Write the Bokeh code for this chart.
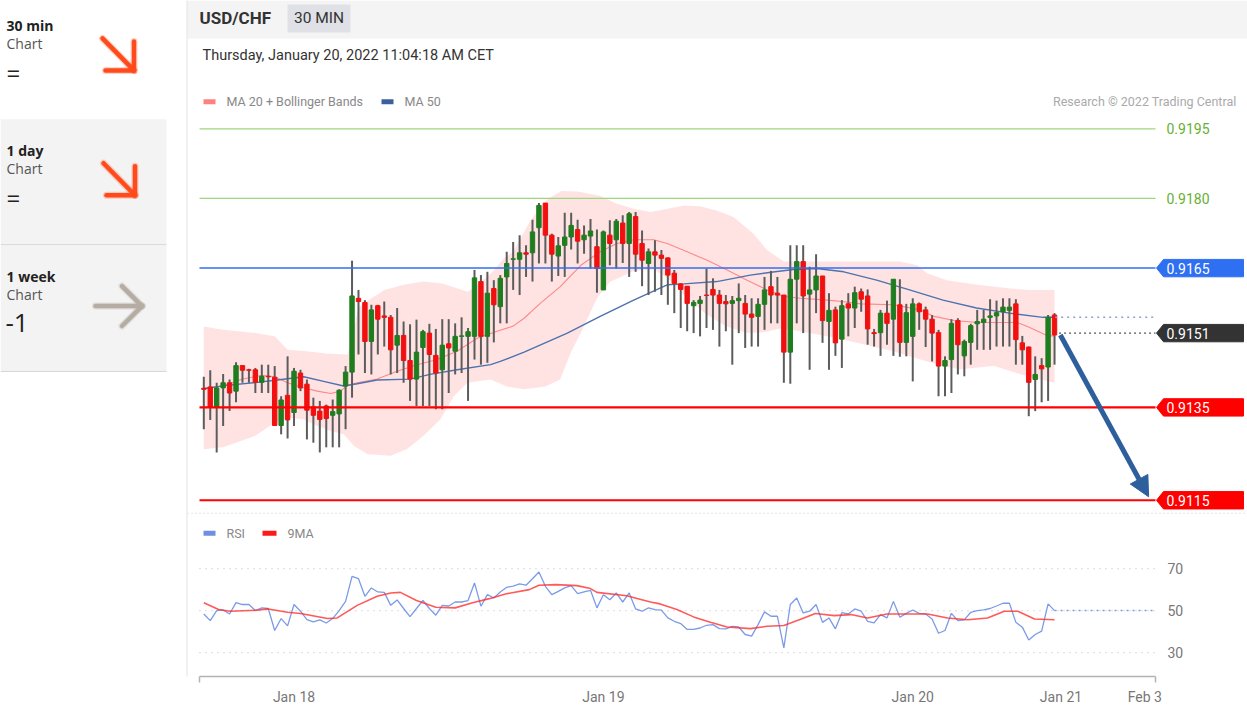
from bokeh.plotting import figure
from bokeh.models import Range1d, LinearAxis, FixedTicker, Arrow, NormalHead
from bokeh.core.properties import value
from bokeh.embed import file_html
from bokeh.resources import INLINE

# ---------------- data ----------------
opens = [0.91391, 0.91394, 0.91351, 0.91392, 0.91403, 0.91385, 0.91440, 0.91431, 0.91431, 0.91404,
         0.91417, 0.91415, 0.91311, 0.91376, 0.91339, 0.91424, 0.91400, 0.91351, 0.91342, 0.91353,
         0.91333, 0.91336, 0.91396, 0.91426, 0.91585, 0.91576, 0.91492, 0.91569, 0.91547, 0.91544,
         0.91484, 0.91505, 0.91451, 0.91411, 0.91479, 0.91510, 0.91462, 0.91431, 0.91487, 0.91471,
         0.91503, 0.91503, 0.91503, 0.91621, 0.91503, 0.91606, 0.91567, 0.91631, 0.91669, 0.91669,
         0.91683, 0.91683, 0.91737, 0.91790, 0.91721, 0.91676, 0.91699, 0.91717, 0.91733, 0.91711,
         0.91719, 0.91696, 0.91603, 0.91721, 0.91711, 0.91747, 0.91703, 0.91761, 0.91703, 0.91660,
         0.91685, 0.91678, 0.91672, 0.91639, 0.91616, 0.91611, 0.91569, 0.91574, 0.91592, 0.91604,
         0.91592, 0.91578, 0.91574, 0.91580, 0.91574, 0.91551, 0.91546, 0.91572, 0.91610, 0.91596,
         0.91592, 0.91469, 0.91626, 0.91664, 0.91594, 0.91603, 0.91633, 0.91535, 0.91560, 0.91497,
         0.91573, 0.91564, 0.91599, 0.91590, 0.91511, 0.91511, 0.91553, 0.91540, 0.91571, 0.91490,
         0.91503, 0.91573, 0.91560, 0.91540, 0.91511, 0.91439, 0.91453, 0.91537, 0.91461, 0.91490,
         0.91530, 0.91533, 0.91544, 0.91547, 0.91556, 0.91559, 0.91573, 0.91489, 0.91480, 0.91410,
         0.91440, 0.91437, 0.91549]
highs = [0.91416, 0.91430, 0.91403, 0.91422, 0.91410, 0.91447, 0.91441, 0.91433, 0.91435, 0.91442,
         0.91442, 0.91439, 0.91374, 0.91460, 0.91435, 0.91431, 0.91410, 0.91371, 0.91364, 0.91356,
         0.91367, 0.91389, 0.91439, 0.91666, 0.91603, 0.91581, 0.91571, 0.91571, 0.91578, 0.91549,
         0.91564, 0.91535, 0.91529, 0.91539, 0.91517, 0.91530, 0.91519, 0.91540, 0.91540, 0.91531,
         0.91544, 0.91521, 0.91646, 0.91635, 0.91642, 0.91624, 0.91635, 0.91685, 0.91706, 0.91721,
         0.91699, 0.91754, 0.91790, 0.91790, 0.91724, 0.91717, 0.91769, 0.91769, 0.91754, 0.91742,
         0.91756, 0.91733, 0.91731, 0.91753, 0.91756, 0.91764, 0.91771, 0.91771, 0.91731, 0.91692,
         0.91710, 0.91689, 0.91673, 0.91646, 0.91617, 0.91611, 0.91581, 0.91590, 0.91649, 0.91628,
         0.91603, 0.91592, 0.91590, 0.91617, 0.91592, 0.91585, 0.91585, 0.91631, 0.91644, 0.91631,
         0.91592, 0.91699, 0.91699, 0.91699, 0.91653, 0.91680, 0.91633, 0.91596, 0.91567, 0.91581,
         0.91596, 0.91610, 0.91606, 0.91604, 0.91519, 0.91560, 0.91580, 0.91626, 0.91626, 0.91573,
         0.91585, 0.91576, 0.91567, 0.91549, 0.91517, 0.91460, 0.91540, 0.91542, 0.91496, 0.91530,
         0.91560, 0.91560, 0.91583, 0.91580, 0.91585, 0.91585, 0.91583, 0.91504, 0.91481, 0.91460,
         0.91456, 0.91549, 0.91553]
lows = [0.91303, 0.91323, 0.91253, 0.91310, 0.91342, 0.91361, 0.91403, 0.91403, 0.91381, 0.91381,
        0.91381, 0.91311, 0.91292, 0.91283, 0.91310, 0.91385, 0.91281, 0.91274, 0.91253, 0.91264,
        0.91264, 0.91264, 0.91303, 0.91371, 0.91464, 0.91424, 0.91421, 0.91464, 0.91481, 0.91421,
        0.91424, 0.91403, 0.91364, 0.91353, 0.91353, 0.91353, 0.91346, 0.91346, 0.91381, 0.91421,
        0.91424, 0.91364, 0.91453, 0.91442, 0.91446, 0.91490, 0.91531, 0.91531, 0.91603, 0.91592,
        0.91631, 0.91621, 0.91660, 0.91660, 0.91621, 0.91633, 0.91631, 0.91690, 0.91660, 0.91681,
        0.91649, 0.91597, 0.91603, 0.91656, 0.91649, 0.91661, 0.91631, 0.91642, 0.91611, 0.91592,
        0.91599, 0.91592, 0.91571, 0.91553, 0.91521, 0.91514, 0.91510, 0.91503, 0.91521, 0.91517,
        0.91481, 0.91514, 0.91442, 0.91510, 0.91478, 0.91481, 0.91481, 0.91517, 0.91531, 0.91531,
        0.91403, 0.91401, 0.91531, 0.91510, 0.91431, 0.91553, 0.91489, 0.91431, 0.91461, 0.91435,
        0.91503, 0.91521, 0.91556, 0.91485, 0.91481, 0.91461, 0.91485, 0.91461, 0.91459, 0.91460,
        0.91406, 0.91517, 0.91480, 0.91449, 0.91374, 0.91374, 0.91381, 0.91421, 0.91417, 0.91442,
        0.91474, 0.91474, 0.91474, 0.91481, 0.91481, 0.91481, 0.91442, 0.91442, 0.91331, 0.91342,
        0.91361, 0.91364, 0.91442]
closes = [0.91389, 0.91351, 0.91392, 0.91403, 0.91381, 0.91440, 0.91430, 0.91430, 0.91404, 0.91417,
          0.91416, 0.91311, 0.91366, 0.91323, 0.91428, 0.91392, 0.91344, 0.91333, 0.91324, 0.91326,
          0.91341, 0.91387, 0.91426, 0.91590, 0.91578, 0.91492, 0.91560, 0.91540, 0.91544, 0.91474,
          0.91505, 0.91451, 0.91411, 0.91469, 0.91513, 0.91464, 0.91424, 0.91484, 0.91478, 0.91503,
          0.91504, 0.91513, 0.91629, 0.91503, 0.91596, 0.91571, 0.91628, 0.91660, 0.91670, 0.91683,
          0.91680, 0.91728, 0.91785, 0.91721, 0.91680, 0.91698, 0.91717, 0.91742, 0.91708, 0.91721,
          0.91730, 0.91649, 0.91728, 0.91703, 0.91751, 0.91703, 0.91767, 0.91680, 0.91667, 0.91685,
          0.91678, 0.91671, 0.91635, 0.91617, 0.91604, 0.91574, 0.91576, 0.91581, 0.91591, 0.91592,
          0.91574, 0.91573, 0.91580, 0.91585, 0.91551, 0.91544, 0.91572, 0.91603, 0.91592, 0.91592,
          0.91469, 0.91626, 0.91664, 0.91590, 0.91603, 0.91633, 0.91537, 0.91559, 0.91489, 0.91569,
          0.91564, 0.91597, 0.91583, 0.91519, 0.91509, 0.91553, 0.91531, 0.91626, 0.91490, 0.91554,
          0.91573, 0.91556, 0.91540, 0.91510, 0.91439, 0.91451, 0.91531, 0.91485, 0.91492, 0.91526,
          0.91535, 0.91540, 0.91547, 0.91554, 0.91566, 0.91566, 0.91496, 0.91474, 0.91404, 0.91421,
          0.91433, 0.91544, 0.91506]

bb_upper_x = [0, 3, 8, 11, 13, 16, 19, 22.3, 23, 24, 26, 28, 31, 34, 37, 41, 43, 45, 46.5, 48,
              50.7, 53.3, 55.5, 58, 61.5, 64, 66.7, 69.3, 72, 74.5, 77, 79.6, 82.2, 85.3, 87.4, 90,
              97.8, 108, 110.7, 112.2, 115.3, 120, 125.2, 128, 132]
bb_upper = [0.91524, 0.91517, 0.91510, 0.91503, 0.91474, 0.91471, 0.91466, 0.91464, 0.91500, 0.91565,
            0.91585, 0.91603, 0.91614, 0.91621, 0.91617, 0.91599, 0.91620, 0.91645, 0.91670, 0.91685,
            0.91753, 0.91799, 0.91816, 0.91815, 0.91806, 0.91789, 0.91778, 0.91771, 0.91778, 0.91785,
            0.91783, 0.91774, 0.91760, 0.91724, 0.91689, 0.91664, 0.91664, 0.91664, 0.91656, 0.91639,
            0.91624, 0.91614, 0.91606, 0.91603, 0.91603]
bb_lower_x = [0, 3, 5, 8, 11, 13, 15.5, 17.6, 19.7, 21.7, 23.3, 25.4, 29, 31.5, 34.1, 36.7, 38.8,
              40.9, 44.5, 47, 49.7, 53, 55.3, 57, 58.5, 61, 63, 66.7, 69.8, 72, 75, 78, 81, 84.3,
              87, 89.4, 92, 96.7, 102, 107, 112.2, 114.8, 117.4, 122.6, 127.8, 132]
bb_lower = [0.91260, 0.91264, 0.91274, 0.91289, 0.91317, 0.91328, 0.91324, 0.91310, 0.91299, 0.91292,
            0.91267, 0.91249, 0.91246, 0.91260, 0.91289, 0.91324, 0.91374, 0.91403, 0.91410, 0.91395,
            0.91389, 0.91395, 0.91410, 0.91470, 0.91510, 0.91585, 0.91620, 0.91644, 0.91647, 0.91628,
            0.91585, 0.91550, 0.91525, 0.91510, 0.91512, 0.91520, 0.91515, 0.91503, 0.91487, 0.91471,
            0.91449, 0.91439, 0.91432, 0.91439, 0.91417, 0.91403]
ma20_x = [0, 3, 6, 9, 11, 13, 15, 17.6, 19.7, 21.2, 22.3, 23.8, 26.9, 30, 33.1, 36.2, 39.3, 42.4,
          45.5, 48, 49.7, 52.2, 55.3, 58.5, 61.5, 64.1, 66.7, 69.8, 71.9, 75, 78.1, 81.2, 84.3,
          87.4, 90, 92.6, 96.7, 99, 102, 107, 111.2, 113.3, 116.4, 120, 126.2, 127.8, 129.4, 131, 132]
ma20 = [0.91392, 0.91396, 0.91411, 0.91419, 0.91416, 0.91403, 0.91394, 0.91385, 0.91380, 0.91385,
        0.91397, 0.91403, 0.91411, 0.91428, 0.91442, 0.91453, 0.91471, 0.91499, 0.91514, 0.91525,
        0.91542, 0.91574, 0.91610, 0.91656, 0.91685, 0.91703, 0.91711, 0.91711, 0.91703, 0.91685,
        0.91667, 0.91646, 0.91624, 0.91603, 0.91589, 0.91585, 0.91581, 0.91578, 0.91573, 0.91571,
        0.91560, 0.91546, 0.91537, 0.91533, 0.91533, 0.91524, 0.91514, 0.91504, 0.91504]
ma50_x = [0, 3.1, 8.3, 11.4, 15.5, 18.6, 21.7, 23.8, 26.9, 32, 35.1, 39.3, 44.5, 46, 49.7, 51.2,
          56.4, 61.5, 66.7, 71.9, 74.5, 79.6, 84.8, 88, 91.5, 95.1, 99.3, 104.4, 109.5, 114.7,
          119.9, 125, 130.2, 132]
ma50 = [0.91390, 0.91397, 0.91404, 0.91409, 0.91416, 0.91406, 0.91396, 0.91401, 0.91409, 0.91411,
        0.91421, 0.91431, 0.91442, 0.91449, 0.91469, 0.91478, 0.91510, 0.91546, 0.91581, 0.91614,
        0.91616, 0.91621, 0.91635, 0.91641, 0.91647, 0.91649, 0.91642, 0.91624, 0.91603, 0.91581,
        0.91564, 0.91553, 0.91544, 0.91544]

rsi = [48.4, 45.2, 50.0, 50.3, 48.4, 53.8, 52.9, 52.9, 50.0, 51.3,
       51.0, 40.5, 46.2, 42.7, 52.9, 49.7, 45.7, 44.6, 45.6, 44.1,
       46.2, 50.0, 54.4, 66.3, 65.2, 56.8, 60.8, 58.9, 58.7, 52.5,
       55.1, 51.0, 47.1, 51.0, 54.8, 51.0, 47.8, 52.5, 52.2, 54.1,
       54.1, 54.8, 63.2, 52.1, 57.6, 56.0, 58.9, 61.1, 61.7, 62.7,
       62.1, 65.2, 68.4, 61.6, 57.6, 59.2, 60.8, 61.9, 58.1, 58.9,
       59.7, 51.3, 57.6, 55.2, 58.4, 54.1, 58.4, 50.8, 49.7, 51.3,
       50.5, 50.2, 46.5, 44.9, 43.8, 41.0, 41.0, 41.7, 43.0, 43.3,
       41.4, 41.3, 42.5, 42.2, 38.6, 37.8, 43.3, 49.4, 47.3, 47.3,
       32.2, 52.9, 56.0, 48.9, 49.7, 52.9, 44.4, 46.5, 41.3, 49.0,
       48.4, 50.8, 49.7, 44.9, 44.1, 48.1, 46.5, 54.4, 46.8, 48.7,
       50.3, 48.7, 48.4, 46.0, 39.2, 40.5, 48.7, 45.2, 45.6, 49.2,
       50.0, 50.3, 51.0, 52.2, 53.5, 53.5, 44.4, 42.1, 36.0, 38.6,
       40.2, 53.2, 50.0]
rsi_ma_x = [0, 2.3, 4.1, 8.2, 10, 13, 15, 19.2, 20.7, 23.8, 26.9, 29, 30.5, 33, 36, 39, 41.7,
            44.3, 46.8, 50.5, 52, 54.6, 57.9, 60, 61, 65.6, 69.3, 70.8, 73.4, 76, 78.6, 81.2,
            84.8, 87.4, 90, 92.5, 94.9, 97.8, 100.4, 103, 106, 108.1, 112.3, 115.4, 118.5,
            121.6, 124.2, 126.3, 128.9, 132]
rsi_ma = [53.7, 50.5, 49.7, 50.2, 50.8, 49.2, 48.6, 46.2, 46.5, 52.5, 56.8, 58.4, 58.7, 54.8,
          51.6, 51.3, 53.7, 55.7, 57.9, 60.0, 62.1, 62.4, 61.9, 60.5, 58.7, 57.1, 54.1, 53.2,
          50.5, 47.0, 44.4, 42.2, 41.4, 42.5, 42.9, 45.7, 48.6, 47.6, 48.1, 46.5, 48.4, 48.4,
          48.4, 46.5, 45.6, 46.5, 49.7, 49.7, 46.0, 45.6]
rsi_levels = [70, 50, 30]

level_prices = [0.9195, 0.9180, 0.9165, 0.9151, 0.9135, 0.9115]
level_kinds = ["res_far", "res_far", "pivot", "last", "support", "support"]
target_price = 0.9115

tick_pos = [14, 62, 110, 133, 146]
tick_labels = ["Jan 18", "Jan 19", "Jan 20", "Jan 21", "Feb 3"]

# ---------------- geometry (page pixels) ----------------
W, H = 1247, 707
PX0, PY0 = 0, 0
BOTTOM = 30
FB = PY0 + H - BOTTOM          # frame bottom on page (axis line)
IDX_X0, IDX_DX = 203.3, 6.445  # first candle x, candle spacing
P_REF, P_REF_Y, P_PX = 0.9165, 268.0, 46500.0
R_REF_Y, R_PX = 611.0, 2.1
X_L, X_R = 199.0, 1155.0       # plot content left/right on page


def idx_at(x):
    return (x - IDX_X0) / IDX_DX


def price_at(y):
    return P_REF - (y - P_REF_Y) / P_PX


def rsi_at(y):
    return 50 - (y - R_REF_Y) / R_PX


p = figure(width=W, height=H, x_range=Range1d(PX0, PX0 + W), y_range=Range1d(FB, PY0),
           output_backend="svg", toolbar_location=None, x_axis_type=None, y_axis_type=None,
           min_border_left=0, min_border_right=0, min_border_top=0, min_border_bottom=BOTTOM)
p.extra_x_ranges = {"idx": Range1d(idx_at(PX0), idx_at(PX0 + W))}
p.extra_y_ranges = {"price": Range1d(price_at(FB), price_at(PY0)),
                    "rsi": Range1d(rsi_at(FB), rsi_at(PY0))}
p.outline_line_color = None
p.background_fill_color = "white"
p.border_fill_color = "white"

XL_I, XR_I = idx_at(X_L), idx_at(X_R)


def txt(x, y, s, size, color, bold=False, align="left", font="Roboto"):
    p.text(x=[x], y=[y], text=[s], text_font=value(font), text_font_size=value(f"{size}px"),
           text_color=color, text_align=align, text_baseline="middle",
           text_font_style="bold" if bold else "normal")


# ---------------- page chrome ----------------
# left summary panel
p.quad(left=[0, 0], right=[166, 166], top=[119, 245], bottom=[244, 371],
       fill_color="#f3f3f3", line_color=None)
p.segment(x0=[0, 0], x1=[166, 166], y0=[244.5, 371.5], y1=[244.5, 371.5],
          line_color="#d6d6d6", line_width=1)
for (t, y0) in [("30 min", 25), ("1 day", 150), ("1 week", 276)]:
    txt(6, y0, t, 14, "#222222", bold=True, font="Open Sans")
    txt(6, y0 + 18, "Chart", 14, "#555555", font="Open Sans")
txt(6, 72, "=", 24, "#222222", font="Open Sans")
txt(6, 197, "=", 24, "#222222", font="Open Sans")
txt(5, 323, "-1", 26, "#222222", font="Open Sans")
for (ax0, ay0) in [(102, 38), (103, 163)]:
    xs_list = [[ax0, ax0 + 31.5], [ax0 + 3, ax0 + 31.5], [ax0 + 31.5, ax0 + 31.5]]
    ys_list = [[ay0, ay0 + 32], [ay0 + 32, ay0 + 32], [ay0 + 3, ay0 + 32]]
    p.multi_line(xs_list, ys_list, line_color="#ff4a1c", line_alpha=0.25, line_width=7, line_cap="round")
    p.multi_line(xs_list, ys_list, line_color="#ff4a1c", line_width=4.5, line_cap="round")
gx = [[95, 141.5], [121.5, 141.5], [121.5, 141.5]]
gy = [[306, 306], [286, 306], [326, 306]]
p.multi_line(gx, gy, line_color="#b5ada3", line_alpha=0.3, line_width=7, line_cap="round")
p.multi_line(gx, gy, line_color="#b5ada3", line_width=4.5, line_cap="round")

# chart container header
p.quad(left=[186.5], right=[1247], top=[0], bottom=[38], fill_color="#f4f4f4", line_color=None)
p.segment(x0=[186.5], x1=[186.5], y0=[0], y1=[707], line_color="#e3e3e3", line_width=1)
txt(199, 18, "USD/CHF", 17, "#333333", bold=True)
p.quad(left=[287], right=[350], top=[4], bottom=[32], fill_color="#dfe1e6", line_color=None)
txt(318.5, 18, "30 MIN", 15.5, "#333333", align="center")
txt(202, 55, "Thursday, January 20, 2022 11:04:18 AM CET", 14.5, "#333333")

# legends
p.quad(left=[203], right=[215], top=[99], bottom=[104], fill_color="#ff8080", line_color=None)
txt(226, 101.5, "MA 20 + Bollinger Bands", 12.5, "#888888")
p.quad(left=[381], right=[393], top=[99], bottom=[104], fill_color="#3c5f9e", line_color=None)
txt(404, 101.5, "MA 50", 12.5, "#888888")
txt(1236, 101.5, "Research \u00a9 2022 Trading Central", 12.5, "#aaaaaa", align="right")
p.segment(x0=[186.5], x1=[1247], y0=[513.5], y1=[513.5], line_color="#e6e6e6",
          line_dash="2 2", line_width=1)
p.quad(left=[203], right=[215], top=[531], bottom=[536], fill_color="#6f8fe3", line_color=None)
txt(226, 533.5, "RSI", 12.5, "#888888")
p.quad(left=[262], right=[276], top=[531], bottom=[536], fill_color="#ff1a1a", line_color=None)
txt(287, 533.5, "9MA", 12.5, "#888888")

# ---------------- price panel ----------------
n = min(len(opens), len(highs), len(lows), len(closes))
xi = list(range(n))

band_x = bb_upper_x + bb_lower_x[::-1]
band_y = bb_upper + bb_lower[::-1]
p.patch(band_x, band_y, x_range_name="idx", y_range_name="price",
        fill_color="#ff0000", fill_alpha=0.11, line_color=None)
p.line(ma20_x, ma20, x_range_name="idx", y_range_name="price",
       line_color="#ff7070", line_width=1.1, line_alpha=0.8)
p.line(ma50_x, ma50, x_range_name="idx", y_range_name="price",
       line_color="#4d72ad", line_width=1.4)

up = [closes[i] >= opens[i] for i in xi]
body_top = [max(opens[i], closes[i]) for i in xi]
body_bot = [min(opens[i], closes[i]) for i in xi]
colors = ["#1f7d1f" if u else "#f01010" for u in up]
p.segment(x0=xi, x1=xi, y0=highs[:n], y1=lows[:n], x_range_name="idx", y_range_name="price",
          line_color="#5c5c5c", line_width=2)
p.vbar(x=xi, top=body_top, bottom=body_bot, width=0.68, x_range_name="idx", y_range_name="price",
       fill_color=colors, line_color=colors, line_width=1)

# dotted extension of latest MA 50
last_i = n - 1
p.segment(x0=[last_i + 0.1], x1=[XR_I], y0=[ma50[-1]], y1=[ma50[-1]], x_range_name="idx",
          y_range_name="price", line_color="#8aa0d0", line_dash="2 4", line_width=1.5)

# levels
h = 8.7 / P_PX
tag_x = [1156, 1163, 1243, 1243, 1163]
for lv, kind in zip(level_prices, level_kinds):
    lab = f"{lv:.4f}"
    if kind == "res_far":
        p.segment(x0=[XL_I], x1=[XR_I], y0=[lv], y1=[lv], x_range_name="idx", y_range_name="price",
                  line_color="#9fd67f", line_width=1.3)
        p.text(x=[1166], y=[lv], text=[lab], y_range_name="price", text_font=value("Roboto"),
               text_font_size=value("14px"), text_color="#66b032", text_baseline="middle")
        continue
    if kind == "pivot":
        col = "#2f6ff2"
        p.segment(x0=[XL_I], x1=[XR_I], y0=[lv], y1=[lv], x_range_name="idx", y_range_name="price",
                  line_color=col, line_width=1.5)
    elif kind == "last":
        col = "#333333"
        p.segment(x0=[last_i + 0.7], x1=[XR_I], y0=[lv], y1=[lv], x_range_name="idx",
                  y_range_name="price", line_color="#555555", line_dash="2 3", line_width=1.2)
    else:
        col = "#ff0000"
        p.segment(x0=[XL_I], x1=[XR_I], y0=[lv], y1=[lv], x_range_name="idx", y_range_name="price",
                  line_color=col, line_width=2.2)
    p.patch(tag_x, [lv, lv + h, lv + h, lv - h, lv - h], y_range_name="price",
            fill_color=col, line_color=col)
    p.text(x=[1166], y=[lv], text=[lab], y_range_name="price", text_font=value("Roboto"),
           text_font_size=value("14px"), text_color="white", text_baseline="middle")

# forecast arrow
p.add_layout(Arrow(x_start=last_i + 0.9, y_start=closes[n - 1], x_end=last_i + 14.6,
                   y_end=target_price + 3.5 / P_PX, x_range_name="idx", y_range_name="price",
                   line_color="#2e5f9d", line_width=5,
                   end=NormalHead(size=20, fill_color="#2e5f9d", line_color="#2e5f9d")))

# ---------------- RSI panel ----------------
for lv in rsi_levels:
    p.segment(x0=[XL_I], x1=[XR_I], y0=[lv], y1=[lv], x_range_name="idx", y_range_name="rsi",
              line_color="#c8c8c8", line_dash="1 5", line_width=1.2)
    p.text(x=[1167], y=[lv], text=[str(lv)], y_range_name="rsi", text_font=value("Roboto"),
           text_font_size=value("14px"), text_color="#777777", text_baseline="middle")
p.line(list(range(len(rsi))), rsi, x_range_name="idx", y_range_name="rsi",
       line_color="#7b9be8", line_width=1.3)
p.line(rsi_ma_x, rsi_ma, x_range_name="idx", y_range_name="rsi",
       line_color="#ff3030", line_width=1.6, line_alpha=0.8)
p.segment(x0=[len(rsi) - 1], x1=[XR_I], y0=[rsi[-1]], y1=[rsi[-1]], x_range_name="idx",
          y_range_name="rsi", line_color="#7b9be8", line_dash="2 4", line_width=1.5)

# ---------------- time axis ----------------
xaxis = LinearAxis(x_range_name="idx",
                   ticker=FixedTicker(ticks=tick_pos, minor_ticks=[XL_I, XR_I]),
                   bounds=(XL_I - 0.01, XR_I + 0.01))
xaxis.major_label_overrides = {t: l for t, l in zip(tick_pos, tick_labels)}
xaxis.axis_line_color = "#b3b3b3"
xaxis.axis_line_width = 1.5
xaxis.major_tick_line_color = None
xaxis.major_tick_out = 0
xaxis.major_tick_in = 0
xaxis.minor_tick_out = 6
xaxis.minor_tick_in = 0
xaxis.minor_tick_line_color = "#b3b3b3"
xaxis.minor_tick_line_width = 1.5
xaxis.major_label_standoff = 6
xaxis.major_label_text_font = "Roboto"
xaxis.major_label_text_font_size = "14px"
xaxis.major_label_text_color = "#777777"
p.add_layout(xaxis, "below")

open("out.html", "w").write(file_html(p, INLINE))
